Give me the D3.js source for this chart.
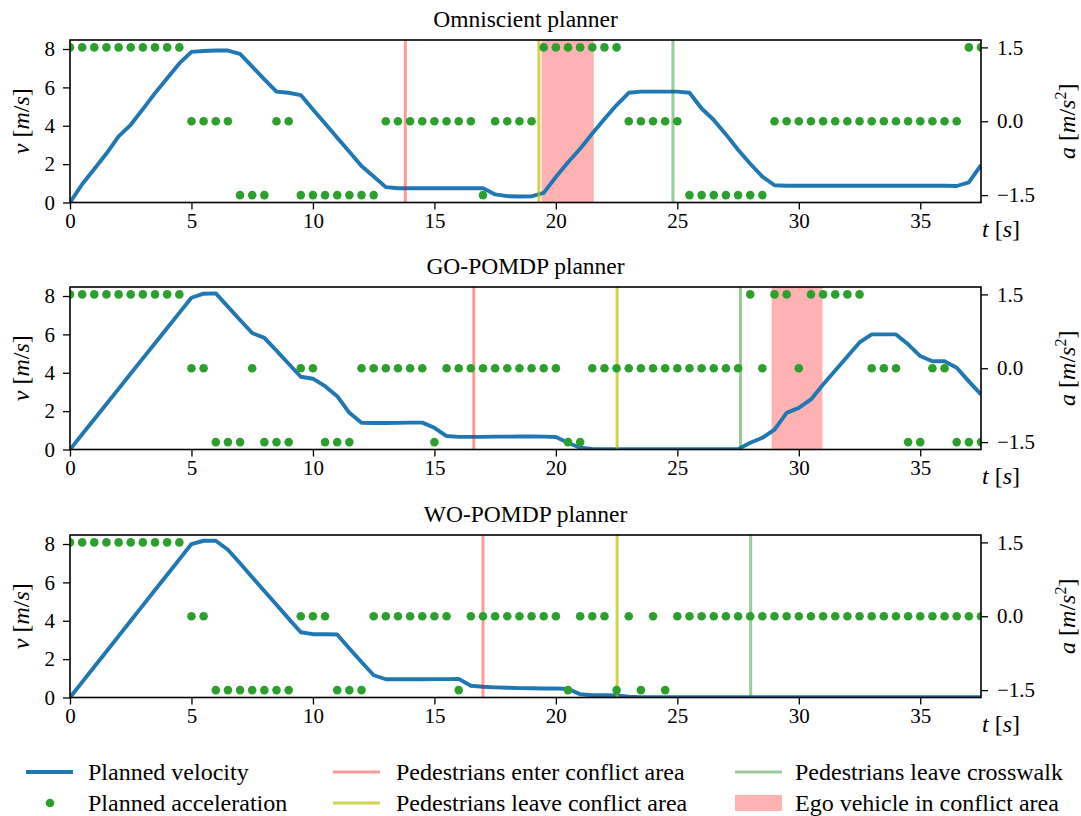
<!DOCTYPE html>
<html>
<head>
<meta charset="utf-8">
<script src="https://cdn.jsdelivr.net/npm/d3@7"></script>
<style>
  body { margin: 0; background: #fff; }
  svg { display: block; }
  svg text { font-family: "Liberation Serif", "Times New Roman", serif; fill: #000; }
</style>
</head>
<body>
<svg id="chart" width="1081" height="816"></svg>
<script>
// ---- data -------------------------------------------------------------
const time = [0,0.5,1,1.5,2,2.5,3,3.5,4,4.5,5,5.5,6,6.5,7,7.5,8,8.5,9,9.5,
  10,10.5,11,11.5,12,12.5,13,13.5,14,14.5,15,15.5,16,16.5,17,17.5,18,18.5,19,19.5,
  20,20.5,21,21.5,22,22.5,23,23.5,24,24.5,25,25.5,26,26.5,27,27.5,28,28.5,29,29.5,
  30,30.5,31,31.5,32,32.5,33,33.5,34,34.5,35,35.5,36,36.5,37,37.5];

const plannerNames = ["Omniscient planner", "GO-POMDP planner", "WO-POMDP planner"];

// planned velocity [m/s]
const velOmniscient = [0,0.95,1.75,2.55,3.45,4.05,4.87,5.7,6.48,7.25,
  7.85,7.9,7.92,7.92,7.75,7.08,6.42,5.78,5.72,5.6,
  4.85,4.12,3.38,2.64,1.9,1.36,0.8,0.74,0.74,0.74,
  0.74,0.74,0.74,0.74,0.75,0.42,0.33,0.31,0.32,0.5,
  1.33,2.1,2.8,3.6,4.35,5.08,5.72,5.78,5.78,5.78,
  5.78,5.72,4.9,4.3,3.55,2.75,2.02,1.35,0.9,0.87,
  0.87,0.87,0.87,0.87,0.87,0.87,0.87,0.87,0.87,0.87,
  0.87,0.87,0.87,0.86,1.05,1.95];
const velGO = [0,0.79,1.58,2.37,3.16,3.96,4.75,5.54,6.33,7.12,
  7.91,8.12,8.14,7.45,6.75,6.07,5.82,5.15,4.47,3.79,
  3.69,3.3,2.78,1.91,1.39,1.38,1.38,1.39,1.4,1.4,
  1.13,0.7,0.66,0.66,0.66,0.67,0.67,0.68,0.68,0.67,
  0.65,0.35,0.09,0.03,0.02,0.02,0.02,0.02,0.02,0.02,
  0.02,0.02,0.02,0.02,0.02,0.02,0.35,0.61,1.04,1.91,
  2.17,2.61,3.39,4.12,4.85,5.58,6.0,6.0,6.0,5.48,
  4.87,4.6,4.6,4.26,3.55,2.87];
const velWO = [0,0.8,1.6,2.4,3.2,4.0,4.8,5.6,6.4,7.2,
  8.0,8.17,8.17,7.7,7.0,6.27,5.55,4.83,4.11,3.4,
  3.3,3.3,3.28,2.55,1.85,1.16,0.95,0.95,0.95,0.95,
  0.96,0.96,0.97,0.61,0.56,0.53,0.51,0.49,0.48,0.47,
  0.47,0.45,0.17,0.12,0.12,0.11,0.04,0.02,0.02,0.02,
  0.02,0.02,0.02,0.02,0.02,0.02,0.02,0.02,0.02,0.02,
  0.02,0.02,0.02,0.02,0.02,0.02,0.02,0.02,0.02,0.02,
  0.02,0.02,0.02,0.02,0.02,0.02];

// planned acceleration [m/s^2]
const accOmniscient = [1.5,1.5,1.5,1.5,1.5,1.5,1.5,1.5,1.5,1.5,
  0,0,0,0,-1.5,-1.5,-1.5,0,0,-1.5,
  -1.5,-1.5,-1.5,-1.5,-1.5,-1.5,0,0,0,0,
  0,0,0,0,-1.5,0,0,0,0,1.5,
  1.5,1.5,1.5,1.5,1.5,1.5,0,0,0,0,
  0,-1.5,-1.5,-1.5,-1.5,-1.5,-1.5,-1.5,0,0,
  0,0,0,0,0,0,0,0,0,0,
  0,0,0,0,1.5,1.5];
const accGO = [1.5,1.5,1.5,1.5,1.5,1.5,1.5,1.5,1.5,1.5,
  0,0,-1.5,-1.5,-1.5,0,-1.5,-1.5,-1.5,0,
  0,-1.5,-1.5,-1.5,0,0,0,0,0,0,
  -1.5,0,0,0,0,0,0,0,0,0,
  0,-1.5,-1.5,0,0,0,0,0,0,0,
  0,0,0,0,0,0,1.5,0,1.5,1.5,
  0,1.5,1.5,1.5,1.5,1.5,0,0,0,-1.5,
  -1.5,0,0,-1.5,-1.5,-1.5];
const accWO = [1.5,1.5,1.5,1.5,1.5,1.5,1.5,1.5,1.5,1.5,
  0,0,-1.5,-1.5,-1.5,-1.5,-1.5,-1.5,-1.5,0,
  0,0,-1.5,-1.5,-1.5,0,0,0,0,0,
  0,0,-1.5,0,0,0,0,0,0,0,
  0,-1.5,0,0,0,-1.5,0,-1.5,0,-1.5,
  0,0,0,0,0,0,0,0,0,0,
  0,0,0,0,0,0,0,0,0,0,
  0,0,0,0,0,0];

// event times [s] per planner
const pedEnterConflict = [13.8, 16.62, 17.0];
const pedLeaveConflict = [19.3, 22.52, 22.52];
const pedLeaveCrosswalk = [24.82, 27.6, 28.02];
const egoInConflictStart = [19.41, 28.88, null];
const egoInConflictEnd = [21.56, 30.97, null];

const velocities = [velOmniscient, velGO, velWO];
const accelerations = [accOmniscient, accGO, accWO];

const timeTicks = [0, 5, 10, 15, 20, 25, 30, 35];
const velTicks = [0, 2, 4, 6, 8];
const accTicks = [-1.5, 0, 1.5];

// ---- layout -----------------------------------------------------------
const svg = d3.select("#chart");
const left = 70, right = 981;
const panelTops = [40, 287, 535];
const panelH = 162.5;

const colVel = "#1f77b4";
const colAcc = "#2ca02c";
const tickFont = 21;

const x = d3.scaleLinear().domain([0, 37.5]).range([left, right]);

function styleAxis(g) {
  g.attr("font-family", null).attr("font-size", null);
  g.select(".domain").remove();
  g.selectAll(".tick line").attr("stroke", "#000").attr("stroke-width", 1.3);
  g.selectAll(".tick text")
    .attr("fill", "#000")
    .style("font-size", tickFont + "px");
}

plannerNames.forEach((name, i) => {
  const top = panelTops[i];
  const bottom = top + panelH;
  const yV = d3.scaleLinear().domain([0, 8.47]).range([bottom, top]);
  const yA = d3.scaleLinear().domain([-1.65, 1.65]).range([bottom, top]);

  const g = svg.append("g");
  const clipId = "clip" + i;
  svg.append("clipPath").attr("id", clipId)
    .append("rect").attr("x", left).attr("y", top)
    .attr("width", right - left).attr("height", panelH);

  const plot = g.append("g").attr("clip-path", `url(#${clipId})`);

  // ego vehicle in conflict area
  if (egoInConflictStart[i] !== null) {
    plot.append("rect")
      .attr("x", x(egoInConflictStart[i]))
      .attr("width", x(egoInConflictEnd[i]) - x(egoInConflictStart[i]))
      .attr("y", top).attr("height", panelH)
      .attr("fill", "red").attr("fill-opacity", 0.3);
  }

  // planned velocity
  const line = d3.line().x((d, k) => x(time[k])).y(d => yV(d));
  plot.append("path")
    .datum(velocities[i])
    .attr("d", line)
    .attr("fill", "none")
    .attr("stroke", colVel)
    .attr("stroke-width", 3.9)
    .attr("stroke-linejoin", "round");

  // pedestrian events
  const events = [
    { t: pedEnterConflict[i], c: "red", o: 0.4 },
    { t: pedLeaveConflict[i], c: "#bfbf00", o: 0.7 },
    { t: pedLeaveCrosswalk[i], c: "green", o: 0.4 }
  ];
  events.forEach(e => {
    plot.append("line")
      .attr("x1", x(e.t)).attr("x2", x(e.t))
      .attr("y1", top).attr("y2", bottom)
      .attr("stroke", e.c).attr("stroke-opacity", e.o)
      .attr("stroke-width", 3);
  });

  // planned acceleration
  plot.selectAll("circle.acc")
    .data(accelerations[i])
    .join("circle")
    .attr("class", "acc")
    .attr("cx", (d, k) => x(time[k]))
    .attr("cy", d => yA(d))
    .attr("r", 4.3)
    .attr("fill", colAcc);

  // frame
  g.append("rect")
    .attr("x", left).attr("y", top)
    .attr("width", right - left).attr("height", panelH)
    .attr("fill", "none").attr("stroke", "#000").attr("stroke-width", 1.6);

  // axes
  g.append("g").attr("transform", `translate(0,${bottom})`)
    .call(d3.axisBottom(x).tickValues(timeTicks).tickFormat(d3.format("d"))
      .tickSizeOuter(0).tickSize(7).tickPadding(4))
    .call(styleAxis);
  g.append("g").attr("transform", `translate(${left},0)`)
    .call(d3.axisLeft(yV).tickValues(velTicks).tickFormat(d3.format("d"))
      .tickSizeOuter(0).tickSize(7).tickPadding(8))
    .call(styleAxis);
  g.append("g").attr("transform", `translate(${right},0)`)
    .call(d3.axisRight(yA).tickValues(accTicks).tickFormat(d3.format(".1f"))
      .tickSizeOuter(0).tickSize(7).tickPadding(9))
    .call(styleAxis);

  // title
  g.append("text")
    .attr("x", (left + right) / 2).attr("y", top - 13)
    .attr("text-anchor", "middle")
    .style("font-size", "23.5px")
    .text(name);

  const midY = (top + bottom) / 2;

  // left label: v [m/s]
  const lv = g.append("text")
    .attr("transform", `translate(29,${midY}) rotate(-90)`)
    .attr("text-anchor", "middle").style("font-size", "24px");
  lv.append("tspan").attr("font-style", "italic").text("v");
  lv.append("tspan").text(" [");
  lv.append("tspan").attr("font-style", "italic").text("m");
  lv.append("tspan").text("/");
  lv.append("tspan").attr("font-style", "italic").text("s");
  lv.append("tspan").text("]");

  // right label: a [m/s^2]
  const la = g.append("text")
    .attr("transform", `translate(1075,${midY}) rotate(-90)`)
    .attr("text-anchor", "middle").style("font-size", "24px");
  la.append("tspan").attr("font-style", "italic").text("a");
  la.append("tspan").text(" [");
  la.append("tspan").attr("font-style", "italic").text("m");
  la.append("tspan").text("/");
  la.append("tspan").attr("font-style", "italic").text("s");
  la.append("tspan").style("font-size", "16px").attr("dy", -9).text("2");
  la.append("tspan").attr("dy", 9).text("]");

  // x label: t [s]
  const lt = g.append("text")
    .attr("x", right + 1).attr("y", bottom + 34)
    .style("font-size", "24px");
  lt.append("tspan").attr("font-style", "italic").text("t");
  lt.append("tspan").text(" [");
  lt.append("tspan").attr("font-style", "italic").text("s");
  lt.append("tspan").text("]");
});

// ---- legend -----------------------------------------------------------
const legend = svg.append("g").style("font-size", "24px");
const row1 = 772, row2 = 803;

function legendText(xp, yp, label) {
  legend.append("text").attr("x", xp).attr("y", yp).attr("dy", "0.33em")
    .style("font-size", "24px").text(label);
}
function legendLine(x0, yp, color, opacity, width) {
  legend.append("line")
    .attr("x1", x0).attr("x2", x0 + 47)
    .attr("y1", yp).attr("y2", yp)
    .attr("stroke", color).attr("stroke-opacity", opacity)
    .attr("stroke-width", width);
}

legendLine(26, row1, colVel, 1, 3.9);
legendText(88, row1, "Planned velocity");
legend.append("circle").attr("cx", 50).attr("cy", row2).attr("r", 4.3).attr("fill", colAcc);
legendText(88, row2, "Planned acceleration");

legendLine(333, row1, "red", 0.4, 3);
legendText(396, row1, "Pedestrians enter conflict area");
legendLine(333, row2, "#bfbf00", 0.7, 3);
legendText(396, row2, "Pedestrians leave conflict area");

legendLine(735, row1, "green", 0.4, 3);
legendText(795, row1, "Pedestrians leave crosswalk");
legend.append("rect").attr("x", 735).attr("y", row2 - 8).attr("width", 47).attr("height", 16)
  .attr("fill", "red").attr("fill-opacity", 0.3);
legendText(795, row2, "Ego vehicle in conflict area");
</script>
</body>
</html>
